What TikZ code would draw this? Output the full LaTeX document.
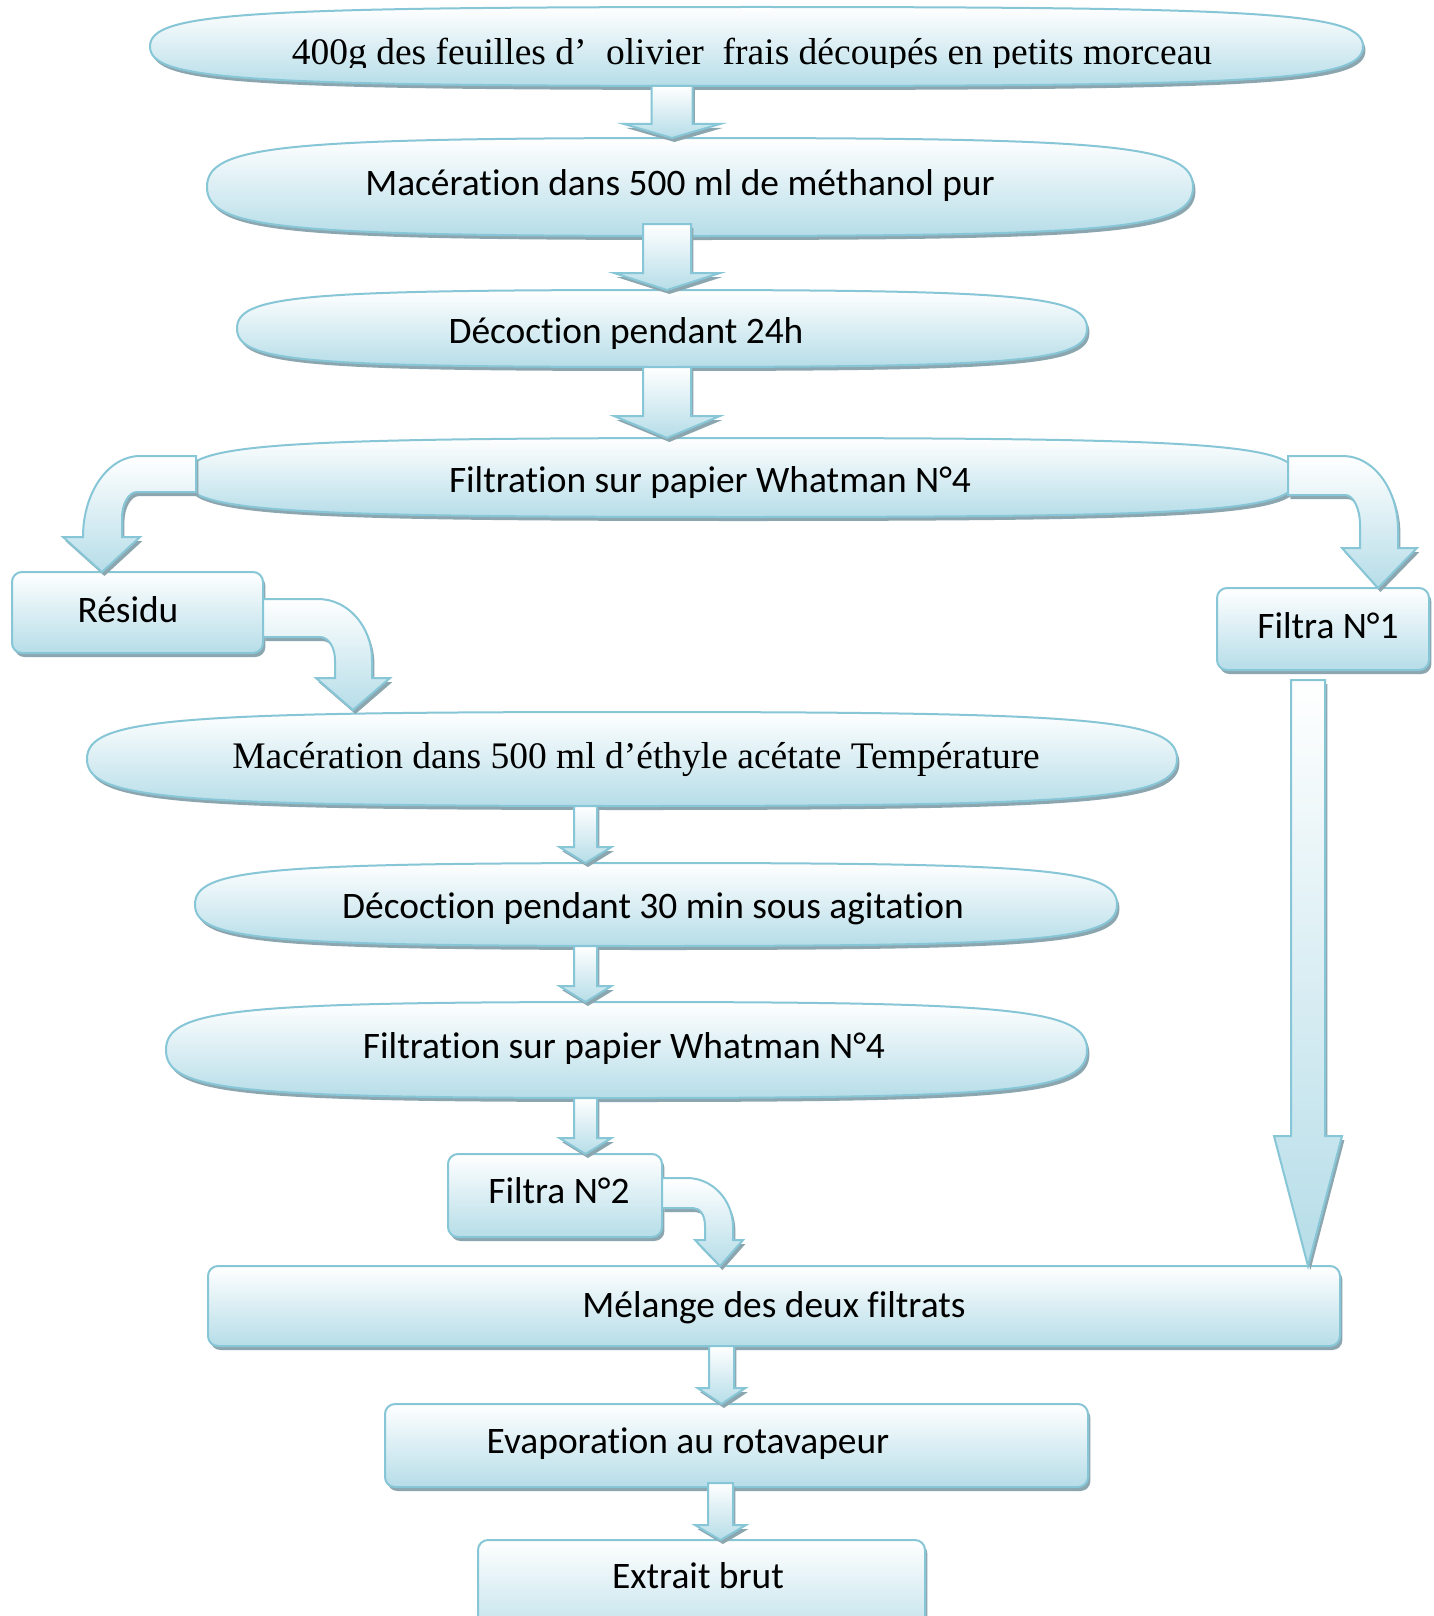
\documentclass[tikz,border=0pt]{standalone}
\usepackage{fontspec}
\setmainfont{Liberation Serif}
\newfontfamily\calfont[Ligatures=NoCommon]{Carlito}
\usetikzlibrary{calc,fit}

\definecolor{edgeblue}{RGB}{135,198,214}
\definecolor{botblue}{RGB}{182,221,232}
\definecolor{shadowc}{RGB}{140,166,176}

\tikzset{
  shapefill/.style={top color=white, bottom color=botblue, draw=edgeblue, line width=1pt},
  shadowfill/.style={fill=shadowc, draw=none, transform canvas={shift={(1.2pt,-2pt)}}},
  holder/.style={inner sep=0pt, outer sep=0pt},
  sanstxt/.style={font=\calfont\fontsize{18.7}{21}\selectfont, anchor=base, inner sep=0pt},
  seriftxt/.style={font=\fontsize{18.75}{22}\selectfont, anchor=base, inner sep=0pt},
}

\newcommand\lensdraw[2]{%
  \path[#2] (#1.west) .. controls ($(#1.west)!0.85!(#1.north west)$) and ($(#1.north)!0.85!(#1.north west)$) .. (#1.north)
     .. controls ($(#1.north)!0.85!(#1.north east)$) and ($(#1.east)!0.85!(#1.north east)$) .. (#1.east)
     .. controls ($(#1.east)!0.85!(#1.south east)$) and ($(#1.south)!0.85!(#1.south east)$) .. (#1.south)
     .. controls ($(#1.south)!0.85!(#1.south west)$) and ($(#1.west)!0.85!(#1.south west)$) .. (#1.west) -- cycle;}
\newcommand\lensshape[1]{\lensdraw{#1}{shadowfill}\lensdraw{#1}{shapefill}}
\newcommand\boxdraw[2]{\path[#2, rounded corners=5pt] (#1.north west) rectangle (#1.south east);}
\newcommand\boxshape[1]{\boxdraw{#1}{shadowfill}\boxdraw{#1}{shapefill}}
% #1 style, #2 top node, #3 bottom node, #4 x coordinate, #5 top offset, #6 shaft half, #7 head half, #8 head length
\newcommand\vblockdraw[8]{%
  \path[#1] ($(#2.south -| #4)+(-#6,#5)$) -- ($(#3.north -| #4)+(-#6,-#8)$) -- ($(#3.north -| #4)+(-#7,-#8)$)
     -- (#3.north -| #4) -- ($(#3.north -| #4)+(#7,-#8)$) -- ($(#3.north -| #4)+(#6,-#8)$)
     -- ($(#2.south -| #4)+(#6,#5)$) -- cycle;}
\newcommand\vblock[7]{\vblockdraw{shadowfill}{#1}{#2}{#3}{#4}{#5}{#6}{#7}\vblockdraw{shapefill}{#1}{#2}{#3}{#4}{#5}{#6}{#7}}

\begin{document}
\begin{tikzpicture}[x=0.5pt, y=-0.5pt]
\useasboundingbox (0,0) rectangle (1434,1616);
\fill[white] (0,0) rectangle (1434,1616);
\clip (0,0) rectangle (1434,1616);

% shape holders
\node[holder, fit={(150,7) (1363,86)}] (e1) {};
\node[holder, fit={(207,138) (1193,236)}] (e2) {};
\node[holder, fit={(237,290) (1087,367)}] (e3) {};
\node[holder, fit={(185,438) (1297,517)}] (e4) {};
\node[holder, fit={(12,572) (263,653)}] (r) {};
\node[holder, fit={(1217,588) (1429,670)}] (f1) {};
\node[holder, fit={(87,712) (1177,806)}] (e5) {};
\node[holder, fit={(195,863) (1117,946)}] (e6) {};
\node[holder, fit={(166,1002) (1087,1098)}] (e7) {};
\node[holder, fit={(448,1154) (662,1237)}] (f2) {};
\node[holder, fit={(208,1266) (1340,1346)}] (m) {};
\node[holder, fit={(385,1404) (1088,1487)}] (ev) {};
\node[holder, fit={(478,1540) (925,1650)}] (ex) {};

% x positions of straight arrows
\coordinate (xa) at (672,0);
\coordinate (xb) at (667,0);
\coordinate (xc) at (585.5,0);
\coordinate (xd) at (721.5,0);
\coordinate (xe) at (720.5,0);
\coordinate (xf) at (1308,0);

% shapes
\lensshape{e1}
\lensshape{e2}
\lensshape{e3}
\lensshape{e4}
\boxshape{r}
\boxshape{f1}
\lensshape{e5}
\lensshape{e6}
\lensshape{e7}
\boxshape{f2}
\boxshape{m}
\boxshape{ev}
\boxshape{ex}

% straight block arrows
\vblock{e1}{e2}{xa}{0}{20.5}{48}{14}
\vblock{e2}{e3}{xb}{-12}{24}{53}{17}
\vblock{e3}{e4}{xb}{0}{24}{53}{22}
\vblock{e5}{e6}{xc}{0}{11.5}{26}{16}
\vblock{e6}{e7}{xc}{0}{11.5}{26}{16}
\vblock{e7}{f2}{xc}{0}{11.5}{26}{16}
\vblock{m}{ev}{xd}{0}{12.5}{24}{16}
\vblock{ev}{ex}{xe}{-4}{12.5}{25.5}{15}
\vblock{f1}{m}{xf}{10}{17}{34}{130}

% curved block arrows
\foreach \st in {shadowfill,shapefill}{
  % Filtration -> Residu
  \path[\st] (196,456) -- (140,456) .. controls (108.5,456) and (83,492) .. (83,537) -- (63,537) -- (102,572)
     -- (140,537) -- (122,537) -- (122,518) .. controls (122,504) and (128.7,492) .. (137,492) -- (196,492) -- cycle;
  % Filtration -> Filtra N1
  \path[\st] (1288,456) -- (1343,456) .. controls (1373.4,456) and (1398,489) .. (1398,530) -- (1398,548) -- (1417,548)
     -- (1378,588) -- (1342,548) -- (1360,548) -- (1360,525) .. controls (1360,508.4) and (1353.3,495) .. (1345,495)
     -- (1288,495) -- cycle;
  % Residu -> Maceration
  \path[\st] (263,599) -- (318,599) .. controls (347.8,599) and (372,626.3) .. (372,660) -- (372,678) -- (390,678)
     -- (353,710) -- (316,678) -- (335,678) -- (335,660) .. controls (335,647.3) and (328.3,637) .. (320,637)
     -- (263,637) -- cycle;
  % Filtra N2 -> Melange
  \path[\st] (662,1178) -- (687,1178) .. controls (712.4,1178) and (733,1200) .. (733,1227) -- (733,1240) -- (743,1240)
     -- (720,1266) -- (695,1240) -- (705,1240) -- (705,1226) .. controls (705,1215) and (700,1208) .. (693,1208)
     -- (662,1208) -- cycle;
}

% texts
\begin{scope}
\clip (0,0) rectangle (1434,67.5);
\node[seriftxt] (t1) at (752,65) {400g des feuilles d’\hspace{5pt} olivier\ \ frais découpés en petits morceau};
\end{scope}
\node[sanstxt] (t2) at (680,195) {Macération dans 500 ml de méthanol pur};
\node[sanstxt] (t3) at (626,343) {Décoction pendant 24h};
\node[sanstxt] (t4) at (710,492) {Filtration sur papier Whatman N°4};
\node[sanstxt] (tr) at (128,622) {Résidu};
\node[sanstxt] (tf1) at (1328,638) {Filtra N°1};
\node[seriftxt] (t5) at (636,768) {Macération dans 500 ml d’éthyle acétate Température};
\node[sanstxt] (t6) at (653,918) {Décoction pendant 30 min sous agitation};
\node[sanstxt] (t7) at (624,1058) {Filtration sur papier Whatman N°4};
\node[sanstxt] (tf2) at (559,1203) {Filtra N°2};
\node[sanstxt] (tm) at (774,1317) {Mélange des deux filtrats};
\node[sanstxt] (tev) at (688,1453) {Evaporation au rotavapeur};
\node[sanstxt] (tex) at (698,1588) {Extrait brut};
\end{tikzpicture}
\end{document}
